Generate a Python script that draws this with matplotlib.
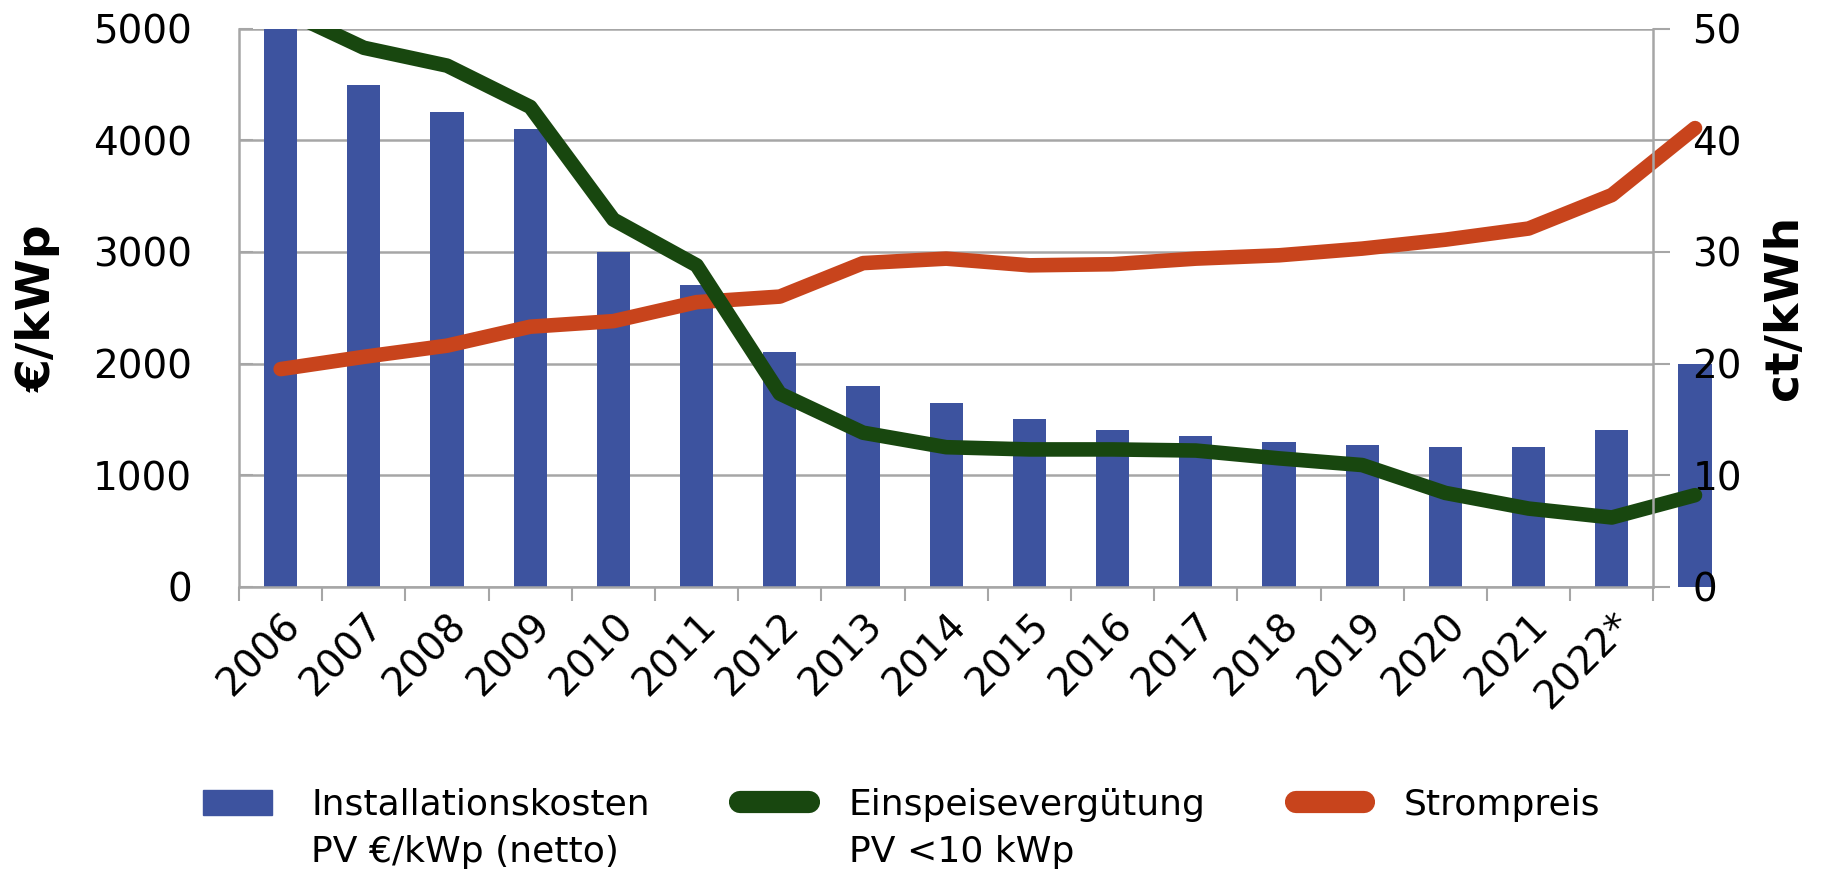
import numpy as np
import matplotlib.pyplot as plt
from matplotlib.lines import Line2D
from matplotlib.patches import Patch
from matplotlib.transforms import Bbox, TransformedBbox

# Data
years = ['2006', '2007', '2008', '2009', '2010', '2011', '2012', '2013', '2014',
         '2015', '2016', '2017', '2018', '2019', '2020', '2021', '2022*']
install_cost = [5000, 4500, 4250, 4100, 3000, 2700, 2100, 1800, 1650, 1500,
                1400, 1350, 1300, 1270, 1250, 1250, 1400, 2000]  # EUR/kWp
feed_in = [51.8, 48.3, 46.7, 43.0, 32.9, 28.8, 17.3, 13.8, 12.5, 12.3,
           12.3, 12.2, 11.5, 10.9, 8.4, 7.0, 6.2, 8.2]  # ct/kWh
power_price = [19.5, 20.6, 21.6, 23.3, 23.8, 25.5, 26.0, 29.0, 29.4, 28.8,
               28.9, 29.4, 29.7, 30.3, 31.1, 32.1, 35.1, 41.1]  # ct/kWh
legend_first = ['Installationskosten', 'Einspeisevergütung', 'Strompreis']
legend_second = ['PV €/kWp (netto)', 'PV <10 kWp', '']

blue = '#3d539f'
green = '#18470f'
red = '#c8441c'
grey = '#a6a6a6'

plt.rcParams['font.family'] = 'DejaVu Sans'

fig = plt.figure(figsize=(18.29, 8.73), dpi=100)
ax = fig.add_axes([0.1307, 0.328, 0.7733, 0.639])

x = np.arange(len(install_cost))
bars = ax.bar(x, install_cost, width=0.4, color=blue, zorder=2)
for b in bars:
    b.set_clip_on(False)

ax.set_xlim(-0.5, len(years) - 0.5)
ax.set_ylim(0, 5000)
ax.set_yticks(range(0, 5001, 1000))
ax.grid(axis='y', color=grey, lw=1.8)
ax.set_axisbelow(True)

ax.set_xticks(np.arange(len(years)))
ax.set_xticklabels(years, rotation=45, ha='right', rotation_mode='anchor', fontsize=28)
ax.set_xticks(np.arange(len(years) + 1) - 0.5, minor=True)
ax.tick_params(axis='x', which='major', length=0, pad=14)
ax.tick_params(axis='x', which='minor', length=10, width=1.5, color=grey)
ax.tick_params(axis='y', direction='in', length=10, width=1.5, color=grey,
               labelsize=28, pad=34)
for side in ['top', 'right']:
    ax.spines[side].set_visible(False)
for side in ['left', 'bottom']:
    ax.spines[side].set_color(grey)
    ax.spines[side].set_linewidth(1.8)
ax.set_ylabel('€/kWp', fontsize=34, fontweight='bold')
ax.yaxis.set_label_coords(-0.126, 0.5)

# second axis for ct/kWh
ax2 = ax.twinx()
ax2.set_ylim(0, 50)
ax2.set_yticks(range(0, 51, 10))
ax2.tick_params(axis='y', direction='out', length=12, width=1.5, color=grey,
                labelsize=28, pad=16)
for side in ['top', 'left', 'bottom']:
    ax2.spines[side].set_visible(False)
ax2.spines['right'].set_color(grey)
ax2.spines['right'].set_linewidth(1.8)
ax2.set_ylabel('ct/kWh', fontsize=34, fontweight='bold')
ax2.yaxis.set_label_coords(1.077, 0.5)

# clip lines at the top of the axis but let the last point run past the right edge
clip = TransformedBbox(Bbox([[-1, 0], [len(x), 50]]), ax2.transData)
for vals, col in [(power_price, red), (feed_in, green)]:
    ln, = ax2.plot(x, vals, color=col, lw=10.5, solid_joinstyle='round',
                   solid_capstyle='round')
    ln.set_clip_path(None)
    ln.set_clip_box(clip)

# legend with two-line labels, handle level with the first line
handles = [Patch(color=blue),
           Line2D([], [], color=green, lw=16, solid_capstyle='round'),
           Line2D([], [], color=red, lw=16, solid_capstyle='round')]
leg = fig.legend(handles, legend_first, loc='center left', bbox_to_anchor=(0.111, 0.078),
                 ncol=3, frameon=False, fontsize=26, handlelength=1.9,
                 handletextpad=1.1, columnspacing=2.5, borderpad=0, borderaxespad=0)

fig.canvas.draw()
renderer = fig.canvas.get_renderer()
W, H = fig.bbox.width, fig.bbox.height
for t, s in zip(leg.get_texts(), legend_second):
    bb = t.get_window_extent(renderer)
    yc = (bb.y0 + bb.y1) / 2 - 47
    fig.text(bb.x0 / W, yc / H, s, fontsize=26, va='center', ha='left')

fig.savefig('out.png', dpi=100)
